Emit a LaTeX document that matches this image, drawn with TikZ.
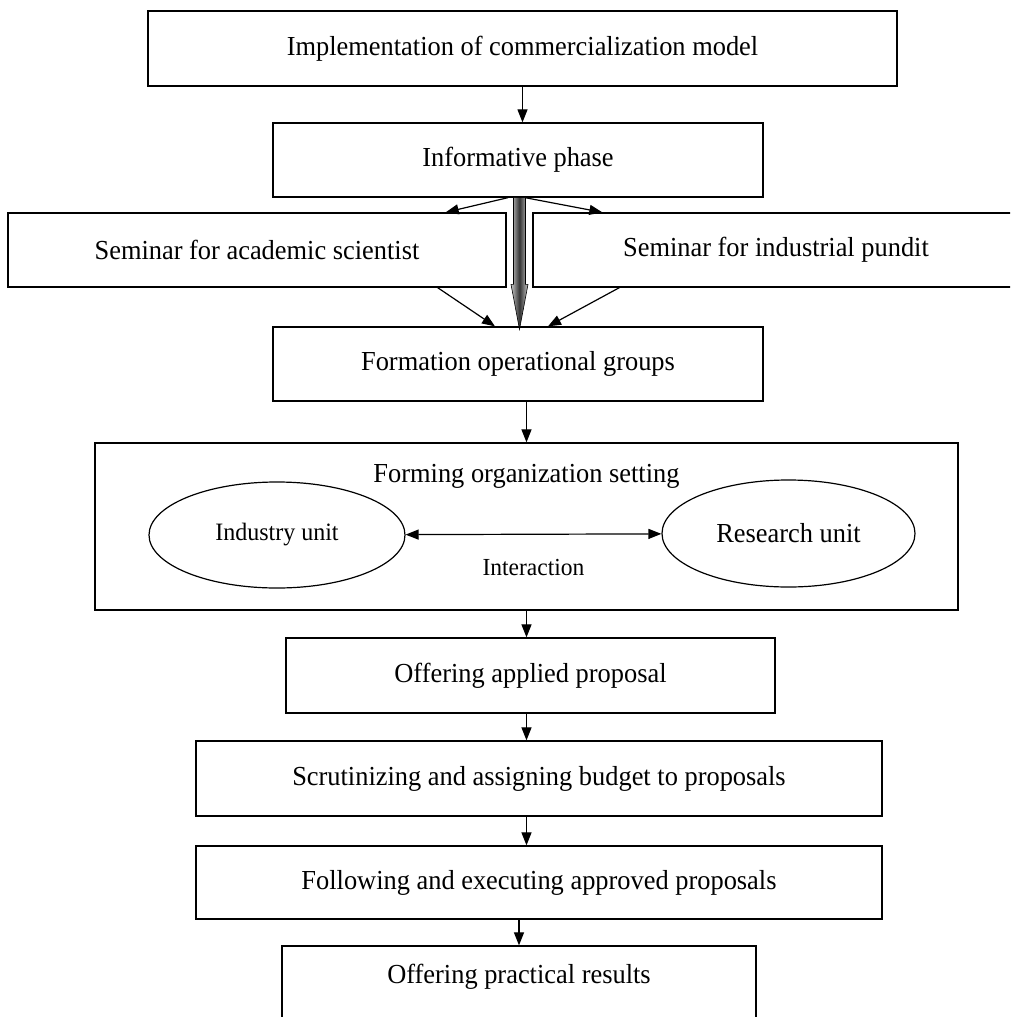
\documentclass[tikz,border=0pt]{standalone}
\usepackage{fontspec}
\setmainfont[FakeStretch=0.96]{Liberation Serif}
\usetikzlibrary{arrows.meta,shapes.geometric}

\begin{document}
\begin{tikzpicture}[
    x=1pt, y=-1pt,
    box/.style={rectangle, draw, line width=1.3pt, inner sep=0pt,
                font=\fontsize{27.5}{31}\selectfont, align=center},
    unit/.style={ellipse, draw, line width=1.2pt, inner sep=0pt},
    arr/.style={-{Triangle[length=13pt, width=10pt]}, line width=1.2pt},
    darr/.style={{Triangle[length=13pt, width=10pt]}-{Triangle[length=13pt, width=10pt]},
                 line width=1.2pt},
    fat/.style={draw=black, line width=0.6pt, left color=gray!45,
                right color=gray!45, middle color=black!80},
    lbl/.style={font=\fontsize{24.5}{28}\selectfont},
]
\useasboundingbox (0,0) rectangle (1010,1017);
\clip (0,0) rectangle (1010,1017);

%% ── Top of the chain ─────────────────────────────────────────────────────────
\node[box, minimum width=749pt, minimum height=75pt] (im) at (522.5,48.5)
      {Implementation of commercialization model};
\node[box, minimum width=490pt, minimum height=74pt] (ip) at (518,160)
      {Informative phase};

% Seminars (right one runs off the page)
\node[box, minimum width=498pt, minimum height=74pt] (sa) at (257,250)
      {Seminar for academic scientist};
\node[box, minimum width=486pt, minimum height=74pt] (si) at (776,250)
      {Seminar for industrial pundit};

\node[box, minimum width=490pt, minimum height=74pt] (fg) at (518,364)
      {Formation operational groups};

%% ── Organization setting ─────────────────────────────────────────────────────
\node[box, minimum width=863pt, minimum height=167pt,
      label={[anchor=center, yshift=-34pt,
              font=\fontsize{27.5}{31}\selectfont]north:Forming organization setting}]
      (fo) at (526.5,526.5) {};
\node[unit, minimum width=256pt, minimum height=106pt,
      font=\fontsize{25}{29}\selectfont] (iu) at (277,535) {Industry unit};
\node[unit, minimum width=253pt, minimum height=107pt,
      font=\fontsize{27.5}{31}\selectfont] (ru) at (788.5,533.5) {Research unit};

%% ── Lower chain ──────────────────────────────────────────────────────────────
\node[box, minimum width=489pt, minimum height=75pt] (oa) at (530.5,675.5)
      {Offering applied proposal};
\node[box, minimum width=686pt, minimum height=75pt] (sb) at (539,778.5)
      {Scrutinizing and assigning budget to proposals};
\node[box, minimum width=686pt, minimum height=73pt] (fe) at (539,882.5)
      {Following and executing approved proposals};
\node[box, minimum width=474pt, minimum height=110pt,
      label={[anchor=center, yshift=-31pt,
              font=\fontsize{27.5}{31}\selectfont]north:Offering practical results}]
      (pr) at (519,1001) {};

%% ── Arrows ───────────────────────────────────────────────────────────────────
\draw[arr] (im.south) -- (im.south |- ip.north);
\draw[arr] ([xshift=-10pt]ip.south) -- ([xshift=-61pt]sa.north east);
\draw[arr] ([xshift=7pt]ip.south)   -- ([xshift=70pt]si.north west);
\draw[arr] ([xshift=-69pt]sa.south east) -- ([xshift=-23pt]fg.north);
\draw[arr] ([xshift=87pt]si.south west)  -- ([xshift=30pt]fg.north);

% broad shaded arrow straight down
\shade[fat] ([xshift=-4.5pt]ip.south)
      -- ([xshift=-4.5pt, yshift=42pt]fg.north)
      -- ([xshift=-7pt, yshift=42pt]fg.north)
      -- ([xshift=1.5pt, yshift=-3pt]fg.north)
      -- ([xshift=10pt, yshift=42pt]fg.north)
      -- ([xshift=7.5pt, yshift=42pt]fg.north)
      -- ([xshift=7.5pt]ip.south) -- cycle;

\draw[arr] (fg.south -| fo.north) -- (fo.north);
\draw[darr] (iu) -- node[lbl, below=21pt] {Interaction} (ru);
\draw[arr] (fo.south) -- (fo.south |- oa.north);
\draw[arr] (oa.south -| fo) -- (sb.north -| fo);
\draw[arr] (sb.south -| fo) -- (fe.north -| fo);
\draw[arr] (fe.south -| pr) -- (pr.north);

\end{tikzpicture}
\end{document}
